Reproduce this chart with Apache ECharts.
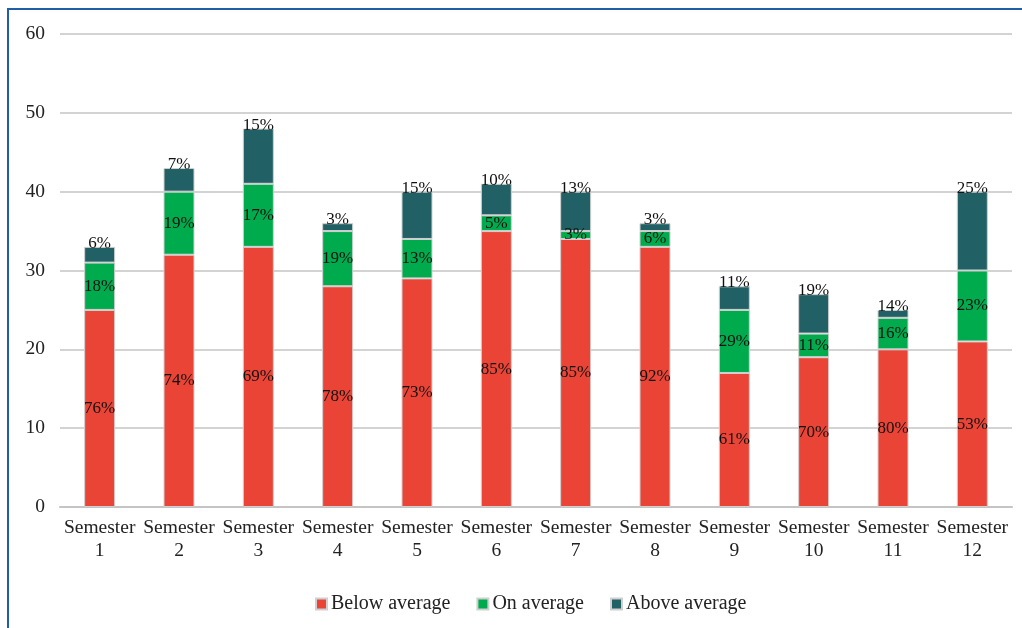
<!DOCTYPE html>
<html>
<head>
<meta charset="utf-8">
<script src="https://cdn.jsdelivr.net/npm/echarts@6/dist/echarts.min.js"></script>
<style>
  html, body { margin: 0; padding: 0; background: #fff; }
  #chart { width: 1022px; height: 628px; }
</style>
</head>
<body>
<div id="chart"></div>
<script>
const semesters = ['Semester\n1', 'Semester\n2', 'Semester\n3', 'Semester\n4', 'Semester\n5', 'Semester\n6',
  'Semester\n7', 'Semester\n8', 'Semester\n9', 'Semester\n10', 'Semester\n11', 'Semester\n12'];

const belowAverage = [25, 32, 33, 28, 29, 35, 34, 33, 17, 19, 20, 21];
const onAverage = [6, 8, 8, 7, 5, 2, 1, 2, 8, 3, 4, 9];
const aboveAverage = [2, 3, 7, 1, 6, 4, 5, 1, 3, 5, 1, 10];

// percent labels as printed on the original
const belowLabels = ['76%', '74%', '69%', '78%', '73%', '85%', '85%', '92%', '61%', '70%', '80%', '53%'];
const onLabels = ['18%', '19%', '17%', '19%', '13%', '5%', '3%', '6%', '29%', '11%', '16%', '23%'];
const aboveLabels = ['6%', '7%', '15%', '3%', '15%', '10%', '13%', '3%', '11%', '19%', '14%', '25%'];

const yTicks = [0, 10, 20, 30, 40, 50, 60];

const FONT = '"Liberation Serif", "DejaVu Serif", serif';

const chart = echarts.init(document.getElementById('chart'));

const makeSeries = (name, data, labels, color, pos) => ({
  name: name,
  type: 'bar',
  stack: 'total',
  barWidth: 31,
  data: data,
  itemStyle: { color: color, borderColor: '#d0d0d0', borderWidth: 1 },
  label: {
    show: true,
    position: pos,
    distance: pos === 'top' ? -5 : 5,
    color: '#111',
    fontFamily: FONT,
    fontSize: 17,
    formatter: (p) => labels[p.dataIndex],
  },
  emphasis: { disabled: true },
});

chart.setOption({
  animation: false,
  backgroundColor: '#fff',
  graphic: [{
    type: 'rect',
    shape: { x: 8, y: 9, width: 1200, height: 1000 },
    style: { fill: 'none', stroke: '#1f5fa8', lineWidth: 2 },
    silent: true,
  }],
  grid: { left: 60, right: 10, top: 34, bottom: 121 },
  legend: {
    left: 310,
    top: 589,
    itemWidth: 11,
    itemHeight: 11,
    itemGap: 26,
    icon: 'rect',
    textStyle: { fontFamily: FONT, fontSize: 20, color: '#222', padding: [0, 0, 0, -1] },
    data: ['Below average', 'On average', 'Above average'],
  },
  xAxis: {
    type: 'category',
    data: semesters,
    axisTick: { show: false },
    axisLine: { lineStyle: { color: '#c4c4c4', width: 2 } },
    axisLabel: {
      fontFamily: FONT, fontSize: 19.5, color: '#222', lineHeight: 23, margin: 9, interval: 0,
    },
  },
  yAxis: {
    type: 'value',
    min: yTicks[0],
    max: yTicks[yTicks.length - 1],
    interval: 10,
    axisLine: { show: false },
    axisTick: { show: false },
    splitLine: { lineStyle: { color: '#c4c4c4', width: 1.5 } },
    axisLabel: { fontFamily: FONT, fontSize: 19.5, color: '#222', margin: 15 },
  },
  series: [
    makeSeries('Below average', belowAverage, belowLabels, '#e94436', 'inside'),
    makeSeries('On average', onAverage, onLabels, '#00ab4e', 'inside'),
    makeSeries('Above average', aboveAverage, aboveLabels, '#216165', 'top'),
  ],
});
</script>
</body>
</html>
